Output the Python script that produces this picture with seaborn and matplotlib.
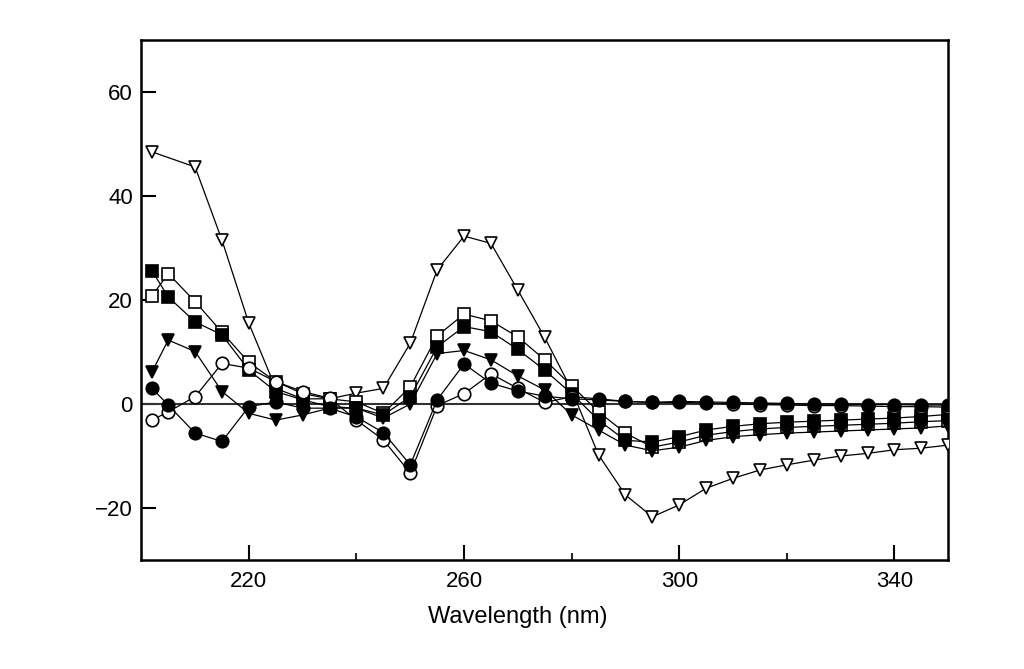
import matplotlib
matplotlib.use("Agg")
import matplotlib.pyplot as plt
import seaborn as sns

# wavelength grid (nm)
wl = [202, 205, 210, 215, 220, 225, 230, 235, 240, 245, 250, 255, 260, 265,
      270, 275, 280, 285, 290, 295, 300, 305, 310, 315, 320, 325, 330, 335,
      340, 345, 350]
# open triangles have no point at 205
wl_tri = [202, 210, 215, 220, 225, 230, 235, 240, 245, 250, 255, 260, 265,
          270, 275, 280, 285, 290, 295, 300, 305, 310, 315, 320, 325, 330,
          335, 340, 345, 350]

open_tri = [48.5, 45.6, 31.5, 15.5, 3.0, 1.0, 1.0, 2.1, 3.0, 11.7, 25.8, 32.3,
            30.9, 21.9, 12.8, 2.7, -9.8, -17.5, -21.7, -19.4, -16.2, -14.3,
            -12.7, -11.7, -10.8, -10.0, -9.5, -8.8, -8.5, -7.9]
open_sq = [20.8, 25.1, 19.7, 13.8, 8.0, 4.3, 2.0, 1.0, 0.4, -1.8, 3.3, 13.1,
           17.3, 16.0, 12.9, 8.5, 3.5, -1.5, -5.6, -8.3, -7.3, -6.0, -5.3,
           -4.8, -4.5, -4.3, -4.1, -3.9, -3.7, -3.4, -3.2]
filled_sq = [25.6, 20.6, 15.8, 13.3, 6.5, 2.4, 0.8, -0.5, -0.8, -2.1, 1.4,
             11.0, 14.9, 13.9, 10.5, 6.5, 2.0, -3.1, -7.0, -7.3, -6.3, -5.0,
             -4.3, -3.8, -3.5, -3.3, -3.1, -2.9, -2.7, -2.4, -2.0]
filled_tri = [6.2, 12.3, 10.1, 2.4, -1.8, -3.1, -2.1, -0.8, -0.8, -2.7, 0.0,
              9.7, 10.3, 8.5, 5.4, 2.7, -2.1, -5.0, -7.9, -9.0, -8.3, -7.0,
              -6.3, -5.9, -5.6, -5.4, -5.2, -5.0, -4.8, -4.6, -4.2]
open_circ = [-3.1, -1.5, 1.4, 7.8, 6.9, 4.3, 2.4, 1.1, -3.1, -6.9, -13.3, -0.3,
             2.0, 5.8, 3.0, 0.3, 1.4, 1.0, 0.5, 0.3, 0.3, 0.2, 0.0, -0.1,
             -0.2, -0.3, -0.3, -0.4, -0.5, -0.5, -0.6]
filled_circ = [3.0, -0.2, -5.6, -7.2, -0.5, 0.4, -0.8, -0.8, -2.5, -5.5, -11.7,
               0.8, 7.7, 4.0, 2.5, 1.5, 1.0, 0.8, 0.5, 0.3, 0.5, 0.4, 0.3, 0.2,
               0.1, 0.0, 0.0, -0.1, -0.1, -0.2, -0.2]

xticks = [220, 260, 300, 340]
xminor = [240, 280, 320]
yticks = [-20, 0, 20, 40, 60]

sns.set_style("ticks")
plt.rcParams['font.family'] = ['Liberation Sans', 'DejaVu Sans']

fig = plt.figure(figsize=(10.24, 6.69), dpi=100)
ax = fig.add_axes([0.138, 0.163, 0.788, 0.777])

ax.axhline(0, color='#333333', lw=1.5, zorder=1)

series = [
    (wl_tri, open_tri, 'v', 'white'),
    (wl, open_sq, 's', 'white'),
    (wl, filled_sq, 's', 'black'),
    (wl, filled_tri, 'v', 'black'),
    (wl, open_circ, 'o', 'white'),
    (wl, filled_circ, 'o', 'black'),
]
for xs, ys, mk, fc in series:
    sns.lineplot(x=xs, y=ys, ax=ax, color='black', linewidth=0.9,
                 marker=mk, markersize=9, markerfacecolor=fc,
                 markeredgecolor='black', markeredgewidth=1.2,
                 errorbar=None, zorder=3)

ax.set_xlim(200, 350)
ax.set_ylim(-30, 70)
ax.set_xticks(xticks)
ax.set_xticks(xminor, minor=True)
ax.set_yticks(yticks)
ax.tick_params(which='major', direction='in', length=11, width=1.5,
               labelsize=16, pad=8, colors='black')
ax.tick_params(which='minor', direction='in', length=5, width=1.5)
ax.tick_params(axis='y', which='major', pad=6)
for s in ax.spines.values():
    s.set_linewidth(1.8)
    s.set_color('black')

ax.set_xlabel('Wavelength (nm)', fontsize=17, color='black')
ax.xaxis.set_label_coords(0.467, -0.088)
ax.set_ylabel('')

fig.savefig('out.png', dpi=100)
